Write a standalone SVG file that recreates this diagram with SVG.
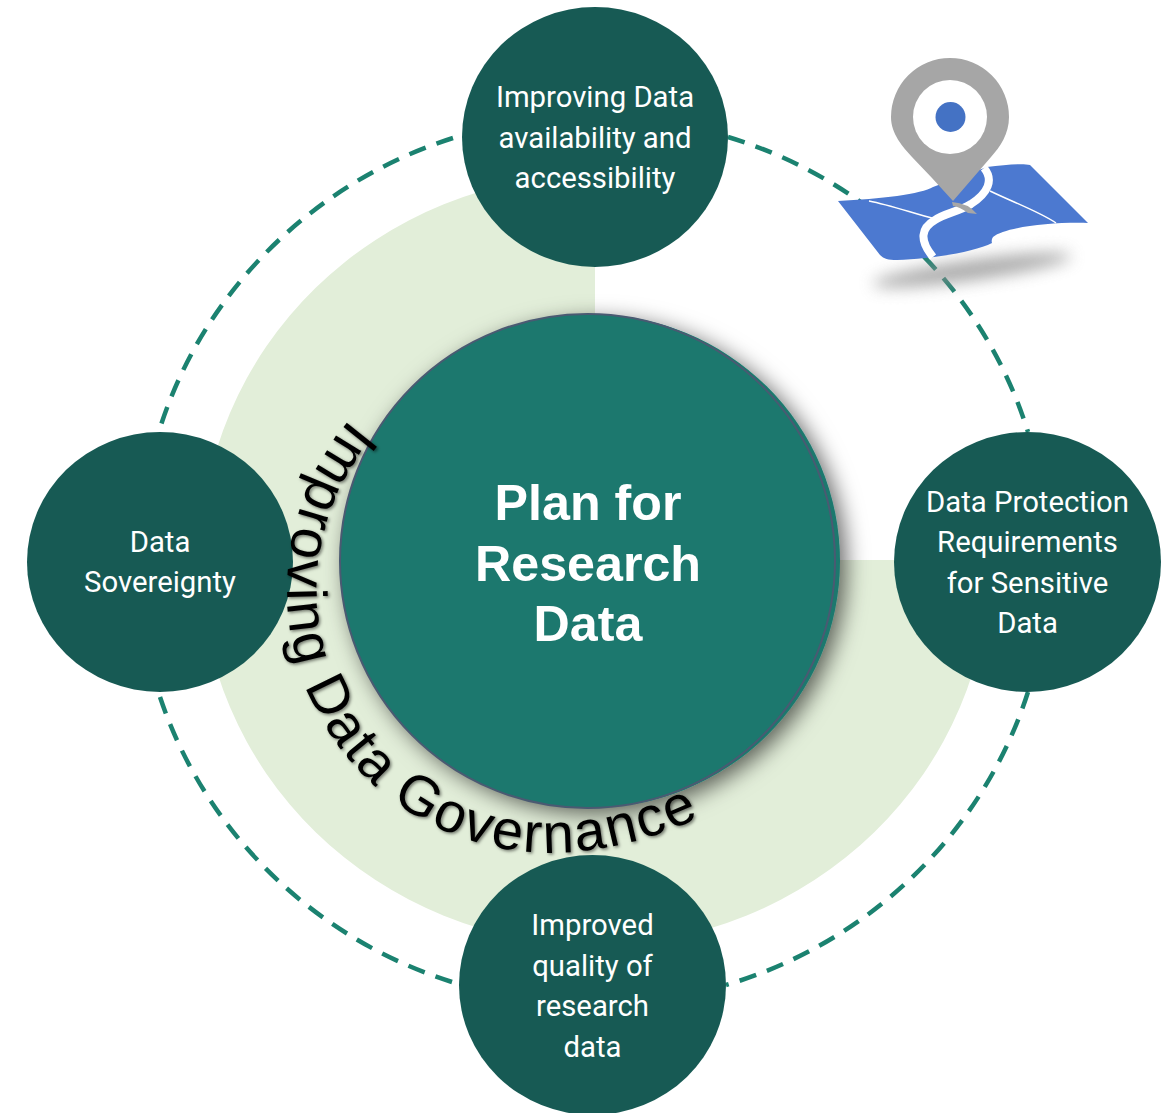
<svg xmlns="http://www.w3.org/2000/svg" width="1161" height="1113" viewBox="0 0 1161 1113">
<style>
.n{fill:#175a54}
.d{fill:none;stroke:#1b8270;stroke-width:4.500;stroke-dasharray:17.500 11.500}
.t{font-family:Roboto,"Liberation Sans",sans-serif;font-size:29.3px;fill:#fff;text-anchor:middle}
.c{font-family:"Liberation Sans",Arial,sans-serif;font-size:50.2px;font-weight:bold;fill:#fff;text-anchor:middle}
.g{font-family:"Liberation Sans",Arial,sans-serif;font-size:56px;letter-spacing:2.2px;fill:#000}
</style>
<defs>
<filter id="hub" x="-20%" y="-20%" width="140%" height="140%"><feDropShadow dx="6" dy="6" stdDeviation="11" flood-color="#000" flood-opacity=".6"/></filter>
<filter id="ts" x="-10%" y="-10%" width="120%" height="120%"><feDropShadow dx="1.500" dy="1.500" stdDeviation="1.500" flood-color="#000" flood-opacity=".5"/></filter>
<filter id="bl" x="-30%" y="-150%" width="160%" height="400%"><feGaussianBlur stdDeviation="8"/></filter>
<path id="arc" d="M350 419A263 263 0 0 0 570 852A370 370 0 0 0 745 792"/>
</defs>
<rect width="1161" height="1113" fill="#fff"/>
<path id="band" d="M595 560V175A395 385 0 1 0 990 560Z" fill="#e2eed9"/>
<g id="connectors">
<path class="d" d="M453 138A453.800 444.800 0 0 0 161 425"/>
<path class="d" d="M728 137A453.800 444.800 0 0 1 1028 432"/>
<path class="d" d="M1028 692A453.800 444.800 0 0 1 726 985"/>
<path class="d" d="M160 697A453.800 444.800 0 0 0 452 982"/>
</g>
<g id="map">
<ellipse cx="972" cy="270" rx="100" ry="10" transform="rotate(-8 972 270)" fill="#8c8c8c" filter="url(#bl)" opacity=".75"/>
<path d="M838 201C880 199 922 194 933 187L987 167C1005 165 1022 163 1030 165L1088 223C1050 222 1005 227 993 237Q991 240 992 243C975 252 930 259 897 260C888 260 884 259 880 255Z" fill="#4c79d0"/>
<path d="M984 168C994 180 988 193 971 204C958 212 945 213 935 220C921 228 919 240 933 257" fill="none" stroke="#fff" stroke-width="8"/>
<path d="M869 201C890 205 912 213 935 219M990 191C1015 203 1040 212 1056 223" fill="none" stroke="#fff" stroke-width="1.500"/>
<path d="M952 202Q968 203 977 214L968 213Q960 207 953 206Z" fill="#a6a6a6"/>
<path d="M953 201L932 178L912 157C903 147 891 134 891 117A59 59 0 0 1 1009 117C1009 134 1000 147 991 157Z" fill="#a6a6a6"/>
<circle cx="950" cy="117" r="37" fill="#fff"/>
<circle cx="950.500" cy="117" r="15" fill="#4472c4"/>
</g>
<g id="node-top"><ellipse class="n" cx="595" cy="137" rx="133" ry="130"/>
<text class="t" x="595" y="107">Improving Data</text><text class="t" x="595" y="148">availability and</text><text class="t" x="595" y="188">accessibility</text></g>
<g id="node-left"><ellipse class="n" cx="160" cy="562" rx="133" ry="130"/>
<text class="t" x="160" y="552">Data</text><text class="t" x="160" y="592">Sovereignty</text></g>
<g id="node-right"><ellipse class="n" cx="1027.500" cy="562" rx="133.500" ry="130"/>
<text class="t" x="1027.500" y="512">Data Protection</text><text class="t" x="1027.500" y="552">Requirements</text><text class="t" x="1027.500" y="593">for Sensitive</text><text class="t" x="1027.500" y="633">Data</text></g>
<g id="node-bottom"><ellipse class="n" cx="592.500" cy="985" rx="133.500" ry="130"/>
<text class="t" x="592.500" y="935">Improved</text><text class="t" x="592.500" y="976">quality of</text><text class="t" x="592.500" y="1016">research</text><text class="t" x="592.500" y="1057">data</text></g>
<g id="node-center">
<ellipse cx="590" cy="561" rx="250" ry="247" fill="#1c786e" filter="url(#hub)"/>
<ellipse cx="587.500" cy="561" rx="247.500" ry="247" fill="#1c786e" stroke="#4a5a72" stroke-width="2"/>
<text class="c" x="588" y="520">Plan for</text><text class="c" x="588" y="581">Research</text><text class="c" x="588" y="641">Data</text>
</g>
<text id="arc-label" class="g" filter="url(#ts)"><textPath href="#arc">Improving Data Governance</textPath></text>
</svg>
